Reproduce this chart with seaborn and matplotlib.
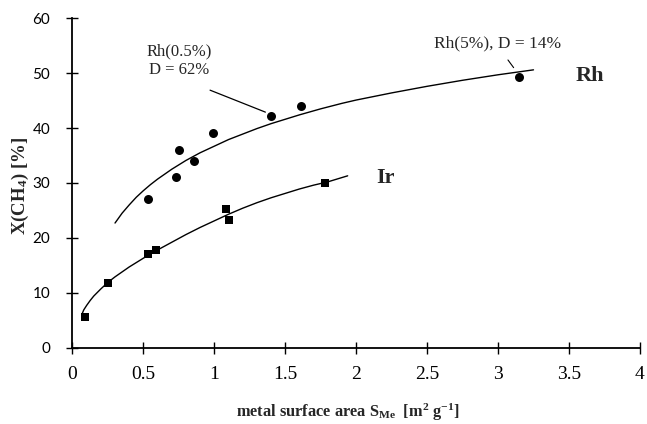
import numpy as np
import pandas as pd
import matplotlib
import matplotlib.pyplot as plt
import seaborn as sns

matplotlib.use("Agg")

# data
rh_x = [0.53, 0.73, 0.75, 0.86, 0.99, 1.40, 1.61, 3.15]
rh_y = [27.1, 31.0, 36.0, 34.0, 39.1, 42.2, 44.1, 49.3]
ir_x = [0.09, 0.25, 0.53, 0.59, 1.08, 1.10, 1.78]
ir_y = [5.5, 11.8, 17.0, 17.7, 25.3, 23.2, 30.0]

# trend lines
rh_trend_x = [0.30, 0.35, 0.40, 0.45, 0.50, 0.55, 0.60, 0.65, 0.70, 0.80, 0.90,
              1.00, 1.10, 1.20, 1.30, 1.40, 1.50, 1.60, 1.75, 1.90, 2.00, 2.25,
              2.50, 2.75, 3.00, 3.25]
rh_trend_y = [22.7, 24.5, 26.0, 27.4, 28.6, 29.7, 30.7, 31.6, 32.5, 34.1, 35.5,
              36.7, 37.9, 38.9, 39.9, 40.8, 41.6, 42.4, 43.5, 44.5, 45.1, 46.4,
              47.6, 48.7, 49.7, 50.6]
ir_trend_x = [0.07, 0.08, 0.10, 0.125, 0.15, 0.20, 0.25, 0.30, 0.35, 0.40, 0.50,
              0.60, 0.70, 0.80, 0.90, 1.00, 1.10, 1.20, 1.30, 1.40, 1.50, 1.60,
              1.70, 1.80, 1.94]
ir_trend_y = [6.3, 6.9, 7.7, 8.6, 9.4, 10.7, 11.9, 12.9, 13.8, 14.7, 16.3,
              17.8, 19.2, 20.6, 21.9, 23.1, 24.3, 25.4, 26.4, 27.3, 28.1, 28.9,
              29.6, 30.2, 31.3]

x_ticks = [0, 0.5, 1, 1.5, 2, 2.5, 3, 3.5, 4]
x_tick_labels = ["0", "0.5", "1", "1.5", "2", "2.5", "3", "3.5", "4"]
y_ticks = [0, 10, 20, 30, 40, 50, 60]


def main():
    sns.set_style("ticks")
    plt.rcParams["font.family"] = ["Liberation Serif", "DejaVu Serif"]
    plt.rcParams["mathtext.fontset"] = "custom"
    plt.rcParams["mathtext.rm"] = "Liberation Serif"
    plt.rcParams["mathtext.bf"] = "Liberation Serif:bold"
    plt.rcParams["mathtext.it"] = "Liberation Serif:italic"

    fig = plt.figure(figsize=(6.47, 4.24), dpi=100)
    ax = fig.add_axes([0.112, 0.18, 0.877, 0.777])

    rh_fit = pd.DataFrame({"x": rh_trend_x, "y": rh_trend_y})
    ir_fit = pd.DataFrame({"x": ir_trend_x, "y": ir_trend_y})
    sns.lineplot(x="x", y="y", data=rh_fit, color="black", lw=1.0, ax=ax, sort=True)
    sns.lineplot(x="x", y="y", data=ir_fit, color="black", lw=1.0, ax=ax, sort=True)

    rh = pd.DataFrame({"x": rh_x, "y": rh_y})
    ir = pd.DataFrame({"x": ir_x, "y": ir_y})
    sns.scatterplot(x="x", y="y", data=rh, marker="o", s=42, color="black",
                    edgecolor="black", linewidth=0, ax=ax, zorder=3)
    sns.scatterplot(x="x", y="y", data=ir, marker="s", s=40, color="black",
                    edgecolor="black", linewidth=0, ax=ax, zorder=3)

    ax.set_xlim(0, 4)
    ax.set_ylim(0, 60)
    ax.set_xticks(x_ticks)
    ax.set_xticklabels(x_tick_labels, fontsize=14)
    ax.set_yticks(y_ticks)
    ax.set_yticklabels([str(v) for v in y_ticks], fontsize=11, family="Lato")
    ax.tick_params(direction="inout", length=8, width=1.0, colors="black")
    ax.tick_params(axis="x", pad=9)
    ax.tick_params(axis="y", pad=12)
    sns.despine(ax=ax)
    for s in ["left", "bottom"]:
        ax.spines[s].set_linewidth(1.3)
        ax.spines[s].set_color("black")

    ax.set_xlabel(r"metal surface area S$_{\mathbf{Me}}$  [m$^{\mathbf{2}}$ g$^{\mathbf{-1}}$]",
                  fontsize=11.8, fontweight="bold")
    ax.xaxis.set_label_coords(0.485, -0.165)
    ax.set_ylabel(r"X(CH$_{\mathbf{4}}$) [%]", fontsize=13.5, fontweight="bold")
    ax.yaxis.set_label_coords(-0.073, 0.49)

    # annotations
    ax.text(0.75, 52.2, "Rh(0.5%)\nD = 62%", fontsize=12, ha="center", va="center",
            linespacing=1.2)
    ax.plot([0.97, 1.36], [46.9, 42.9], color="black", lw=0.9)
    ax.text(3.0, 55.5, "Rh(5%), D = 14%", fontsize=12.5, ha="center", va="center")
    ax.plot([3.07, 3.11], [52.4, 51.0], color="black", lw=0.8)
    ax.text(3.65, 49.4, "Rh", fontsize=16, fontweight="bold", ha="center", va="center")
    ax.text(2.21, 30.9, "Ir", fontsize=16, fontweight="bold", ha="center", va="center")

    fig.savefig("out.png", dpi=100)


if __name__ == '__main__':
    main()
